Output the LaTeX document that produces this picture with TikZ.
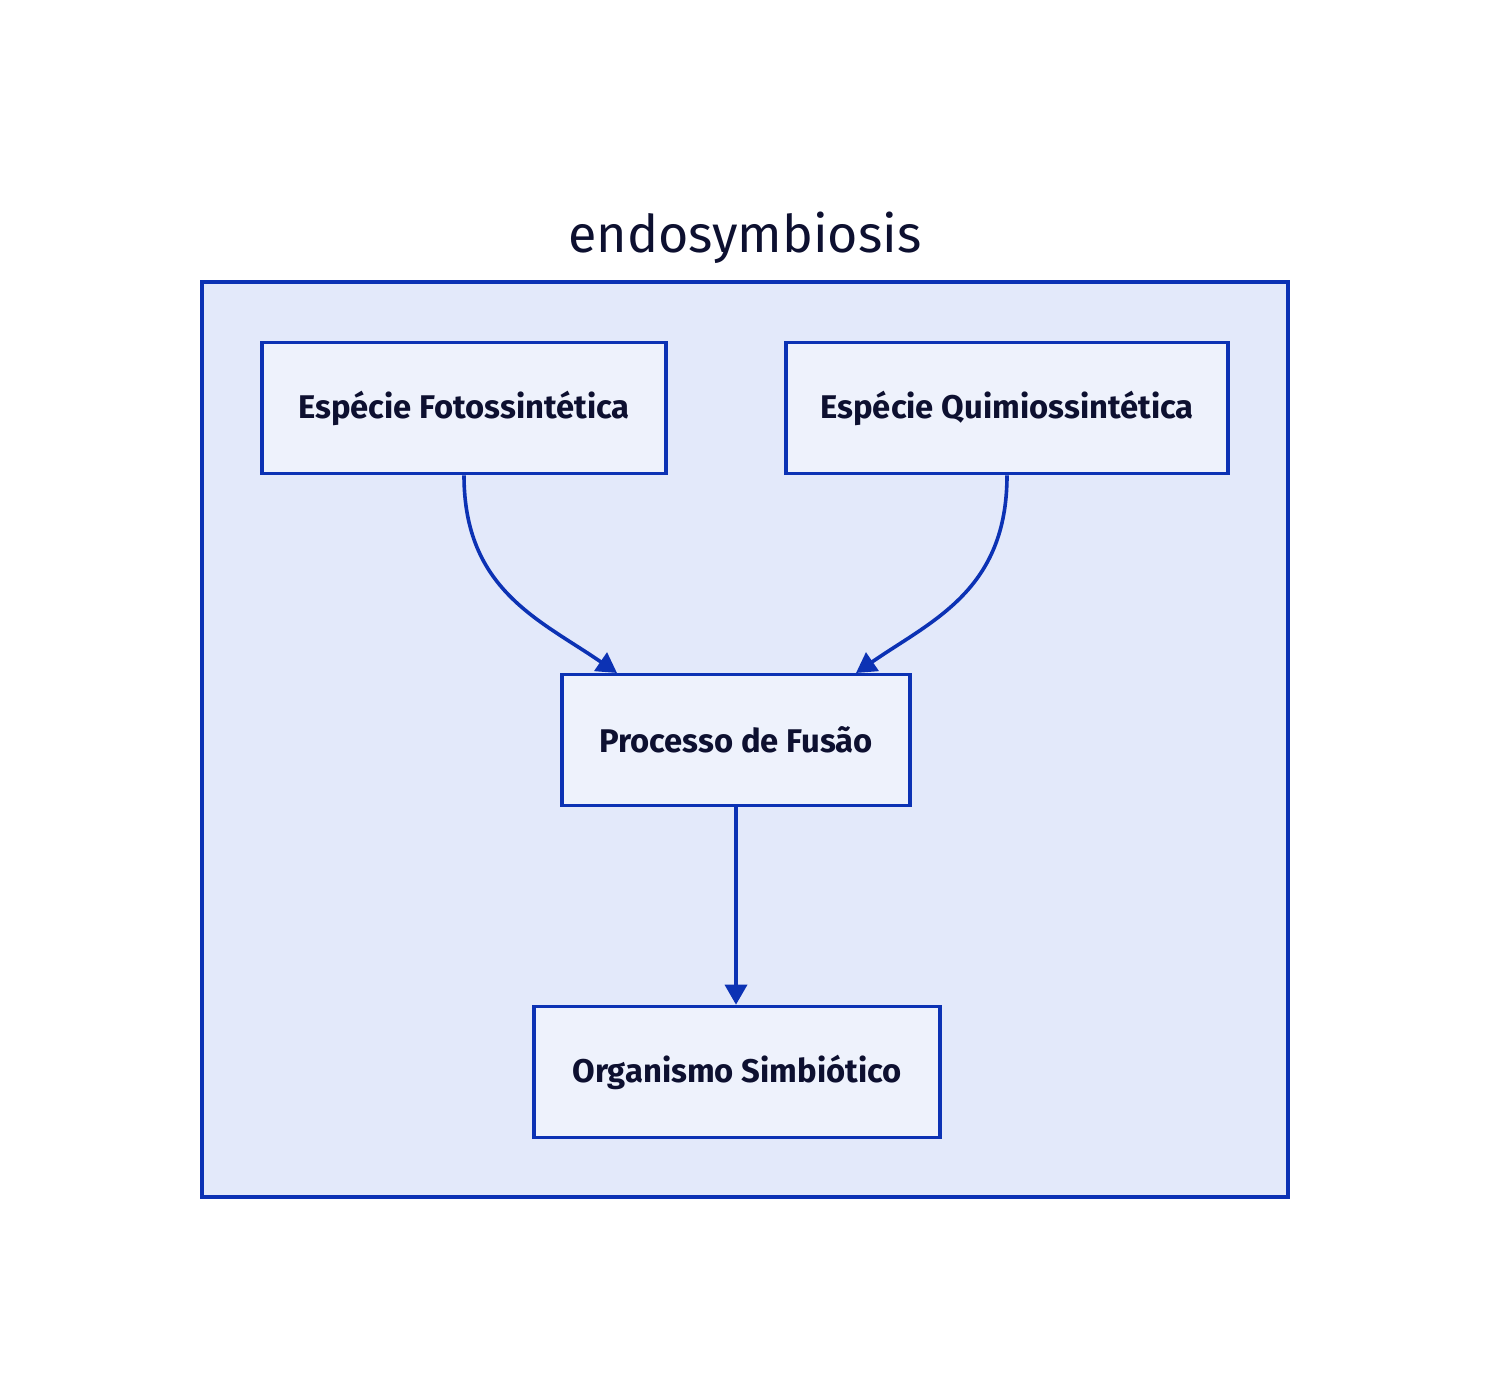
\documentclass[tikz,border=0pt]{standalone}
\usepackage{fontspec}
\setmainfont{Fira Sans}
\usetikzlibrary{arrows.meta}
\definecolor{linha}{HTML}{0C32B4}
\definecolor{fundo}{HTML}{E3E9FA}
\definecolor{fundocaixa}{HTML}{EEF2FC}
\definecolor{tinta}{HTML}{0D1030}
\begin{document}
\begin{tikzpicture}[
        x=0.5pt, y=-0.5pt, % coordenadas em pixels
        grupo/.style = {rectangle, draw=linha, line width=1.8pt, fill=fundo},
        caixa/.style = {rectangle, draw=linha, line width=1.8pt, fill=fundocaixa, text=tinta,
                minimum height=65.5pt, font=\bfseries\fontsize{16.4}{19}\selectfont}, % estilo dos blocos
        seta/.style = {draw=linha, line width=1.8pt, -{Triangle[length=10pt, width=11pt]}},
    ]
    \useasboundingbox (0,0) rectangle (1490,1400);

    \node[grupo, minimum width=543pt, minimum height=457.5pt] (grupo) at (745,739.5) {};
    \node[text=tinta, font=\fontsize{26}{31}\selectfont] (titulo) at (745,238) {endosymbiosis};

    \node[caixa, minimum width=202pt] (foto) at (464,408) {Espécie Fotossintética};
    \node[caixa, minimum width=221pt] (quimio) at (1007,408) {Espécie Quimiossintética};
    \node[caixa, minimum width=174pt] (fusao) at (736,740) {Processo de Fusão};
    \node[caixa, minimum width=203pt] (organismo) at (737,1072) {Organismo Simbiótico};

    \coordinate (fusaoA) at (617,673);
    \coordinate (fusaoB) at (856,673);
    \draw[seta] (foto.south) .. controls (464,590) and (540,620) .. (fusaoA);
    \draw[seta] (quimio.south) .. controls (1007,590) and (933,620) .. (fusaoB);
    \draw[seta] (fusao.south) -- (fusao.south |- organismo.north);

\end{tikzpicture}
\end{document}
